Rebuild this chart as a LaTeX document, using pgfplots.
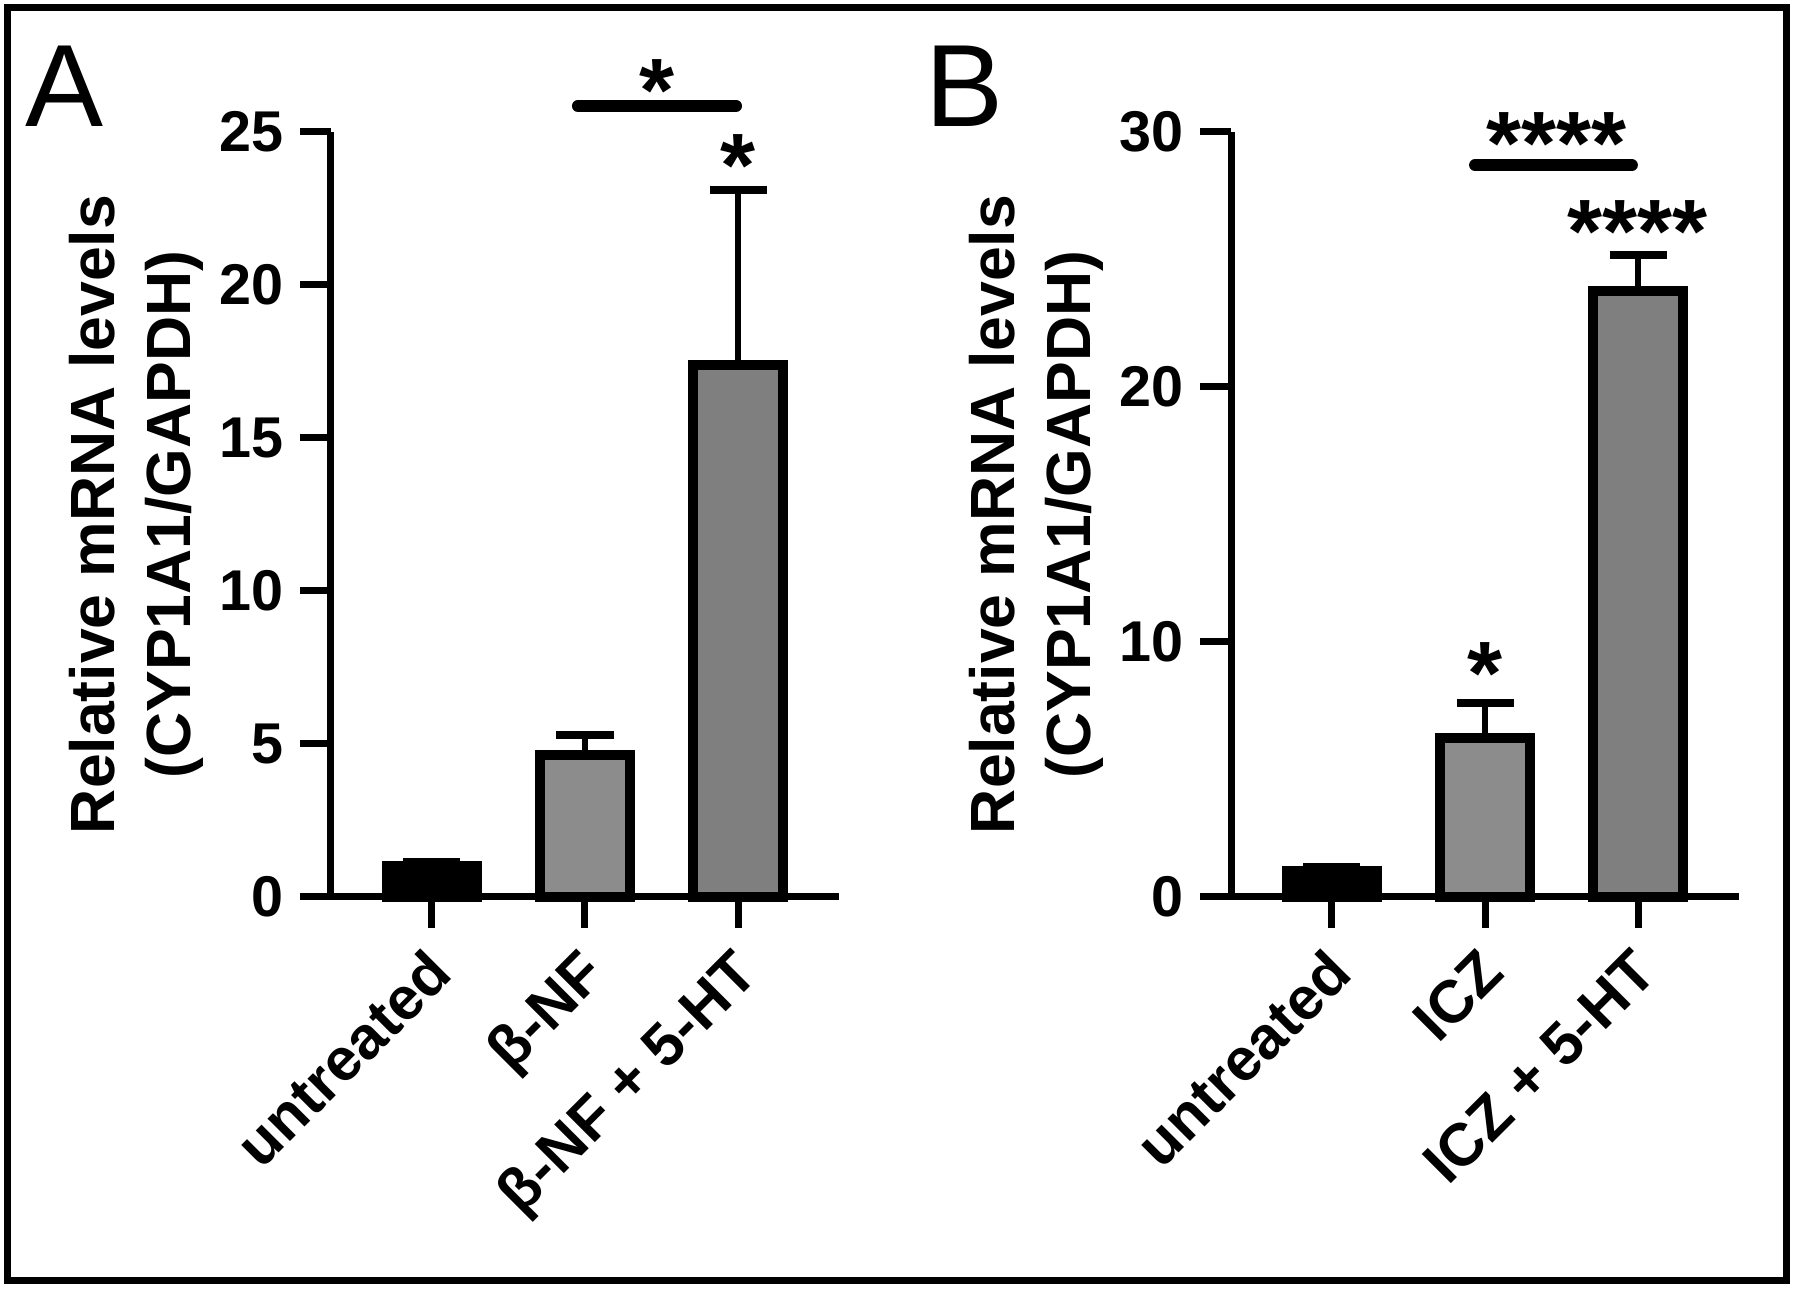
\documentclass[border=0pt]{standalone}
\usepackage{fontspec}
\setmainfont{Liberation Sans}
\usepackage{pgfplots}
\pgfplotsset{compat=1.18}
\definecolor{grayA}{RGB}{140,140,140}
\definecolor{grayB}{RGB}{127,127,127}

% 1 px of the reference = 0.4pt
\pgfplotsset{
  prism/.style={
    scale only axis, width=203.2pt, height=306pt,
    anchor=south west,
    axis x line=bottom, axis y line=left,
    axis line style={line width=2.8pt, -},
    xmin=-0.66, xmax=2.66, ymin=0,
    xtick={0,1,2},
    tick align=outside, major tick length=12.4pt,
    every tick/.style={black, line width=2.8pt},
    tick label style={font=\fontsize{23}{27}\selectfont\bfseries},
    /pgf/number format/assume math mode=true,
    xticklabel style={xshift=-3.2pt, yshift=-7pt, rotate=45, anchor=north east,
      inner sep=0pt, font=\fontsize{24}{28}\selectfont\bfseries},
    yticklabel style={xshift=-3.2pt},
    every axis y label/.style={at={(axis description cs:-0.384,0.5)}, rotate=90,
      anchor=center, align=center, font=\fontsize{25}{30.4}\selectfont\bfseries},
    ylabel={Relative mRNA levels\\(CYP1A1/GAPDH)},
    clip=false,
    ybar, bar width=36pt,
  },
  bars/.style={draw=black, line width=4pt, bar shift=0pt,
    error bars/y dir=plus, error bars/y explicit,
    error bars/error mark=|,
    error bars/error bar style={line width=2.4pt, black},
    error bars/error mark options={line width=3.4pt, mark size=11.4pt, black}},
}
\tikzset{
  stars/.style={anchor=base, inner sep=0pt, font=\fontsize{36}{36}\selectfont\bfseries},
  sig/.style={line width=4.8pt, line cap=round},
}

\begin{document}
\begin{tikzpicture}
\useasboundingbox (0,0) rectangle (718.4pt,516pt);
\draw[line width=2.8pt] (2.8pt,3.6pt) rectangle (714.4pt,512.8pt);

\node[anchor=base west, inner sep=0pt, font=\fontsize{46.8}{50}\selectfont] at (10pt,465.2pt) {A};
\node[anchor=base west, inner sep=0pt, font=\fontsize{46.8}{50}\selectfont] at (370pt,465.2pt) {B};

% panel A
\begin{axis}[prism, at={(132.4pt,157.2pt)},
  ymax=25, ytick={0,5,10,15,20,25},
  xticklabels={untreated, β-NF, β-NF + 5-HT}]
  \addplot[bars, fill=black] coordinates {(0,1.0) +- (0,0.15)};
  \addplot[bars, fill=grayA] coordinates {(1,4.65) +- (0,0.65)};
  \addplot[bars, fill=grayB] coordinates {(2,17.4) +- (0,5.7)};
  \draw[sig] (axis cs:0.954,25.85) -- (axis cs:1.987,25.85);
  \node[stars] at (axis cs:1.47,25.33) {*};
  \node[stars] at (axis cs:2.0,22.9) {*};
\end{axis}

% panel B
\begin{axis}[prism, at={(492.4pt,157.2pt)},
  ymax=30, ytick={0,10,20,30},
  xticklabels={untreated, ICZ, ICZ + 5-HT}]
  \addplot[bars, fill=black] coordinates {(0,1.0) +- (0,0.15)};
  \addplot[bars, fill=grayA] coordinates {(1,6.25) +- (0,1.35)};
  \addplot[bars, fill=grayB] coordinates {(2,23.75) +- (0,1.42)};
  \draw[sig] (axis cs:0.935,28.7) -- (axis cs:1.96,28.7);
  \node[stars] at (axis cs:1.47,28.35) {****};
  \node[stars] at (axis cs:2.0,24.9) {****};
  \node[stars] at (axis cs:1.0,7.53) {*};
\end{axis}
\end{tikzpicture}
\end{document}
